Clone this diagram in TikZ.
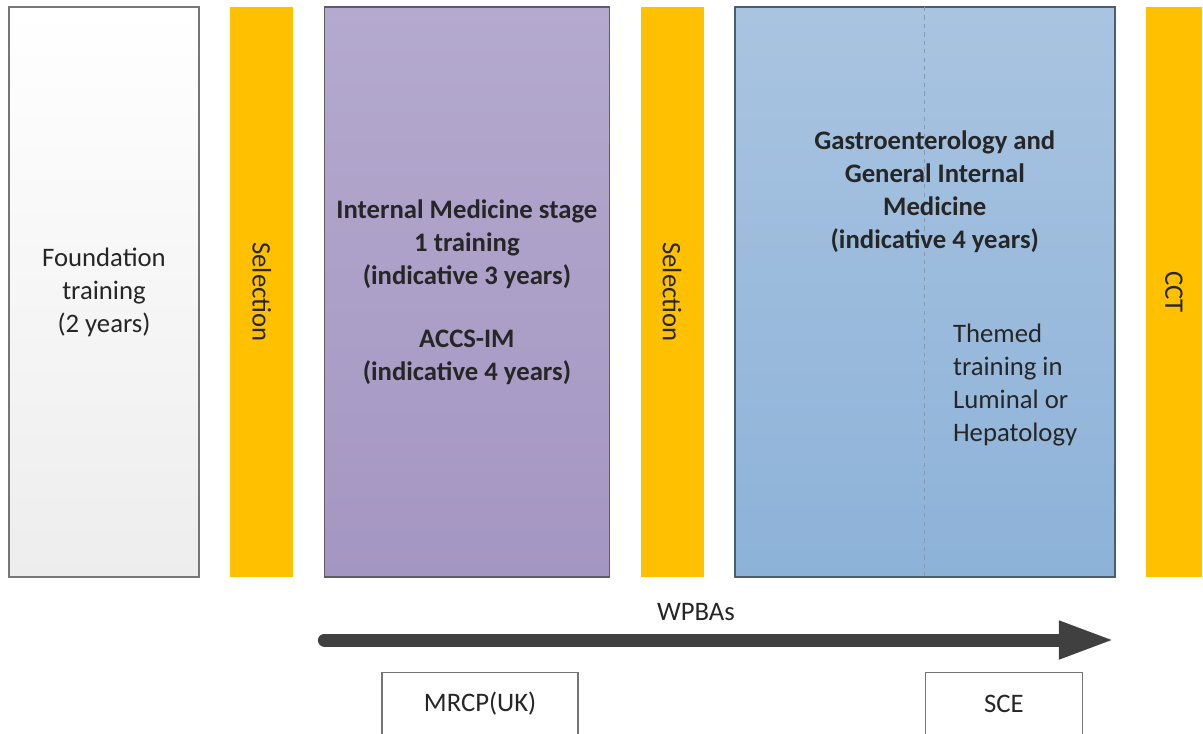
\documentclass[tikz,border=0pt]{standalone}
\usepackage{fontspec}
\setmainfont{Carlito}
\usepackage{tikz}
\usetikzlibrary{
    arrows.meta,
    positioning
}
\definecolor{selorange}{HTML}{FFC000}
\definecolor{boxgrey}{HTML}{767676}
\definecolor{fdnbottom}{HTML}{EDEDED}
\definecolor{imtop}{HTML}{B4A9CE}
\definecolor{imbottom}{HTML}{A496C2}
\definecolor{imedge}{HTML}{5F5B6B}
\definecolor{gimtop}{HTML}{A9C4E1}
\definecolor{gimbottom}{HTML}{8DB2D8}
\definecolor{gimedge}{HTML}{4E5D6E}
\definecolor{gimdash}{HTML}{8499B2}
\definecolor{inktext}{HTML}{262626}
\definecolor{arrowgrey}{HTML}{404040}
\tikzstyle{stage}=[
    rectangle,
    minimum height=14.25cm,
    outer sep=0pt,
    align=center,
    text=inktext,
    line width=1.1pt
]
\tikzstyle{selbar}=[
    rectangle,
    fill=selorange,
    minimum width=1.575cm,
    minimum height=14.25cm,
    outer sep=0pt
]
\tikzstyle{exam}=[
    rectangle,
    draw=boxgrey,
    fill=white,
    line width=1pt,
    minimum height=1.55cm,
    text=inktext
]

\begin{document}
\begin{tikzpicture}[
    node distance=0.78cm,
    font=\fontsize{19}{23.5}\selectfont,
    bartext/.style={rotate=-90,text=inktext},
    heading/.style={font=\fontsize{19}{23.5}\selectfont\bfseries,text=black!85},
    wpba/.style={line width=0.325cm,draw=arrowgrey,line cap=round,
    -{Triangle[length=1.4cm,width=0.875cm]}}
]
\useasboundingbox (0,0) rectangle (30.075,-18.325);
% training stages
\node[stage,draw=boxgrey,top color=white,bottom color=fdnbottom,
minimum width=4.75cm,anchor=north west] (foundation) at (0.225,-0.175)
{Foundation\\training\\(2 years)};
\node[selbar,right=of foundation] (sel1) {};
\node[stage,heading,draw=imedge,top color=imtop,bottom color=imbottom,
minimum width=7.125cm,right=of sel1] (imt)
{Internal Medicine stage\\1 training\\(indicative 3 years)\\[0.75cm]ACCS-IM\\(indicative 4 years)};
\node[selbar,right=of imt] (sel2) {};
\node[stage,draw=gimedge,top color=gimtop,bottom color=gimbottom,
minimum width=9.5cm,right=of sel2] (gim) {};
\node[selbar,minimum width=1.4cm,right=of gim] (cct) {};
\draw[gimdash,dashed,line width=0.6pt] (gim.north) -- (gim.south);
% labels on the bars and the specialty box
\node[bartext] (sel1txt) at (sel1.center) {Selection};
\node[bartext] (sel2txt) at (sel2.center) {Selection};
\node[bartext] (cctxt) at (cct.center) {CCT};
\node[heading,align=center] (gimtxt) at ([xshift=0.25cm,yshift=-4.61cm]gim.north)
{Gastroenterology and\\General Internal\\Medicine\\(indicative 4 years)};
\node[align=left,anchor=west,inner sep=0pt,text=inktext] (themed)
at ([xshift=0.7cm,yshift=-9.45cm]gim.north)
{Themed\\training in\\Luminal or\\Hepatology};
% assessments
\coordinate[below=1.575cm of imt.south west] (wstart);
\coordinate[below=1.575cm of gim.south east] (wend);
\draw[wpba] (wstart) -- node[pos=0.47,yshift=0.7cm,text=inktext] (wpbatxt) {WPBAs} (wend);
\node[exam,minimum width=4.9cm,anchor=north west] (mrcp)
at ([xshift=1.425cm,yshift=-2.375cm]imt.south west) {MRCP(UK)};
\node[exam,minimum width=3.925cm,anchor=north west] (sce)
at ([yshift=-2.375cm]gim.south) {SCE};
\end{tikzpicture}
\end{document}
